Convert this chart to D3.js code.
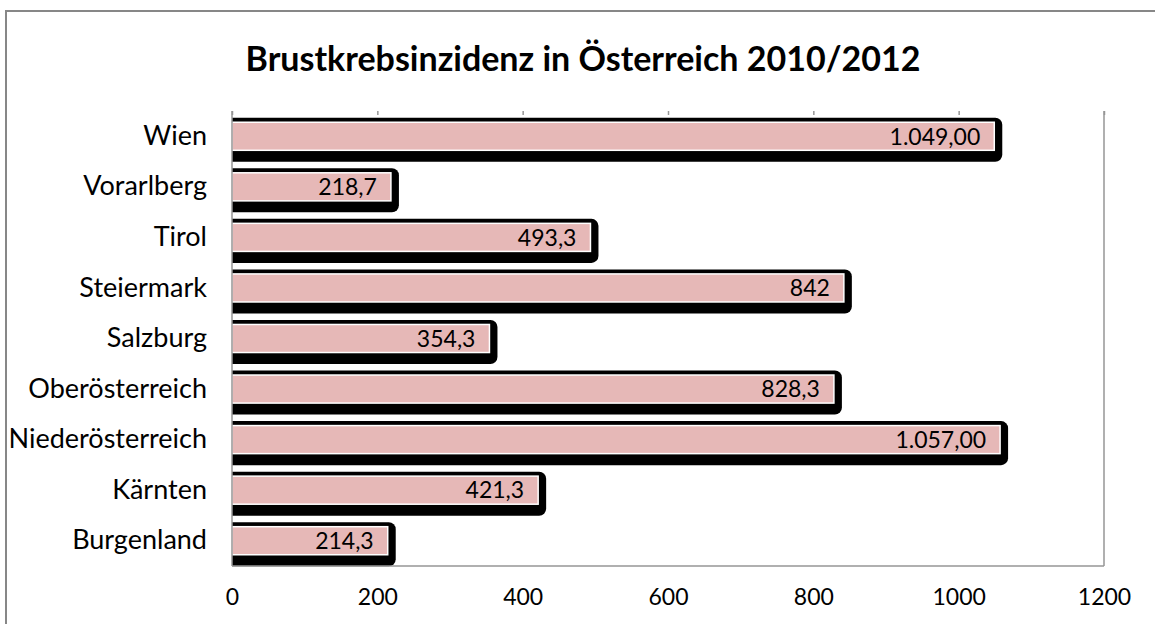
<!DOCTYPE html>
<html>
<head>
<meta charset="utf-8">
<script src="https://cdn.jsdelivr.net/npm/d3@7"></script>
<style>
  body { margin: 0; background: #fff; }
  text { font-family: Lato, "Open Sans", sans-serif; fill: #000; }
</style>
</head>
<body>
<svg id="chart" width="1155" height="624"></svg>
<script>
// data (top to bottom as shown)
const regions = ["Wien", "Vorarlberg", "Tirol", "Steiermark", "Salzburg",
                 "Oberösterreich", "Niederösterreich", "Kärnten", "Burgenland"];
const incidence = [1049, 218.7, 493.3, 842, 354.3, 828.3, 1057, 421.3, 214.3];
const valueLabels = ["1.049,00", "218,7", "493,3", "842", "354,3",
                     "828,3", "1.057,00", "421,3", "214,3"];
const xTicks = [0, 200, 400, 600, 800, 1000, 1200];

const svg = d3.select("#chart");

// outer chart frame (runs off the page to the right/bottom)
svg.append("rect")
  .attr("x", 6).attr("y", 11)
  .attr("width", 1200).attr("height", 700)
  .attr("fill", "none")
  .attr("stroke", "#878787")
  .attr("stroke-width", 2);

svg.append("text")
  .attr("x", 583).attr("y", 71)
  .attr("text-anchor", "middle")
  .style("font-size", "34px")
  .style("font-weight", "bold")
  .text("Brustkrebsinzidenz in Österreich 2010/2012");

const plot = {left: 232, right: 1104, top: 111, bottom: 566};

const x = d3.scaleLinear().domain([0, 1200]).range([plot.left, plot.right]);
const y = d3.scaleBand().domain(regions)
  .range([plot.top, plot.bottom])
  .paddingInner(0.445).paddingOuter(0.2225);

const data = regions.map((r, i) => ({region: r, value: incidence[i], label: valueLabels[i]}));

// clip so the shadow starts flush at the axis
svg.append("clipPath").attr("id", "plotclip")
  .append("rect")
  .attr("x", plot.left).attr("y", 0)
  .attr("width", 1155 - plot.left).attr("height", 624);

// shadows
svg.append("g").attr("clip-path", "url(#plotclip)")
  .selectAll("rect")
  .data(data)
  .enter().append("rect")
    .attr("x", plot.left - 12)
    .attr("y", d => y(d.region) - 4.5)
    .attr("width", d => x(d.value) - plot.left + 12 + 8)
    .attr("height", y.bandwidth() + 16)
    .attr("rx", 7)
    .attr("fill", "#000");

// bars
svg.append("g")
  .selectAll("rect")
  .data(data)
  .enter().append("rect")
    .attr("x", plot.left)
    .attr("y", d => y(d.region))
    .attr("width", d => x(d.value) - plot.left)
    .attr("height", y.bandwidth())
    .attr("fill", "#e6b8b7")
    .attr("stroke", "#fff")
    .attr("stroke-width", 1.5);

// value labels, inside end
svg.append("g")
  .selectAll("text")
  .data(data)
  .enter().append("text")
    .attr("x", d => x(d.value) - 14)
    .attr("y", d => y(d.region) + y.bandwidth() / 2)
    .attr("dy", "0.36em")
    .attr("text-anchor", "end")
    .style("font-size", "23px")
    .text(d => d.label);

// plot frame: left, right, bottom
const frame = svg.append("g").attr("stroke", "#969696").attr("stroke-width", 1.5);
frame.append("line").attr("x1", plot.left).attr("x2", plot.left).attr("y1", plot.top).attr("y2", plot.bottom);
frame.append("line").attr("x1", plot.right).attr("x2", plot.right).attr("y1", plot.top).attr("y2", plot.bottom);
frame.append("line").attr("x1", plot.left).attr("x2", plot.right).attr("y1", plot.bottom).attr("y2", plot.bottom);

// little tick marks along the top
const topAxis = svg.append("g")
  .attr("transform", "translate(0," + plot.top + ")")
  .call(d3.axisBottom(x).tickValues(xTicks).tickSize(4).tickFormat(""));
topAxis.select(".domain").remove();
topAxis.selectAll("line").attr("stroke", "#969696").attr("stroke-width", 1.5);

// bottom tick labels
const xAxis = svg.append("g")
  .attr("transform", "translate(0," + plot.bottom + ")")
  .call(d3.axisBottom(x).tickValues(xTicks).tickSize(0).tickPadding(23).tickFormat(d3.format("d")));
xAxis.select(".domain").remove();
xAxis.selectAll("text").style("font-size", "23px").style("font-family", "Lato, sans-serif");

// category labels
const yAxis = svg.append("g")
  .attr("transform", "translate(" + plot.left + ",0)")
  .call(d3.axisLeft(y).tickSize(0).tickPadding(25));
yAxis.select(".domain").remove();
yAxis.selectAll("text").style("font-size", "27px").style("font-family", "Lato, sans-serif");
</script>
</body>
</html>
